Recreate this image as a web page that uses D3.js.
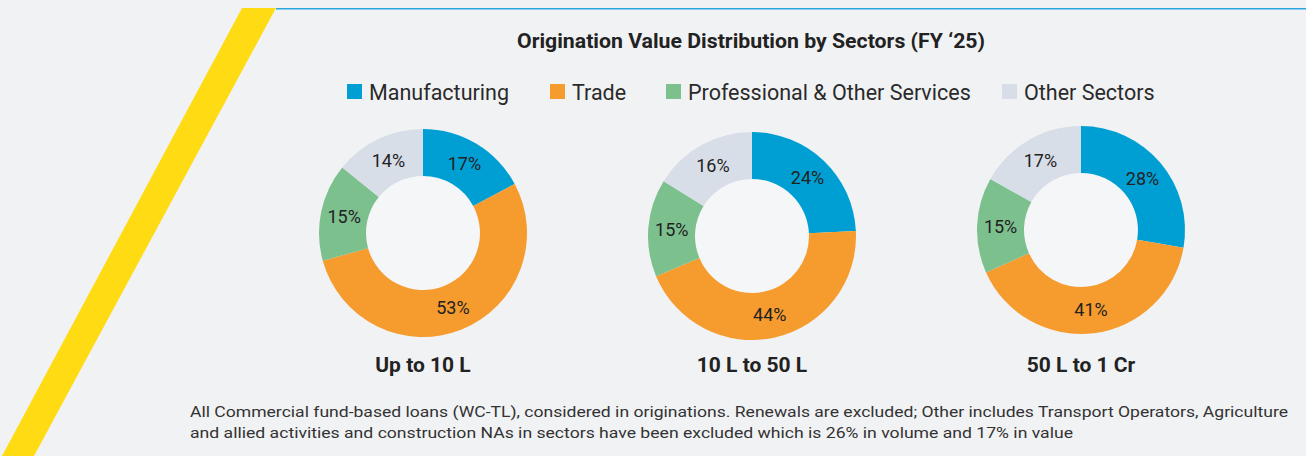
<!DOCTYPE html>
<html>
<head>
<meta charset="utf-8">
<script src="https://cdn.jsdelivr.net/npm/d3@7"></script>
<style>
  html, body { margin: 0; padding: 0; background: #f1f2f4; }
  svg { display: block; font-family: Roboto, "Noto Sans", sans-serif; }
</style>
</head>
<body>
<svg width="1306" height="456"></svg>
<script>
// data
var sectors = ["Manufacturing", "Trade", "Professional & Other Services", "Other Sectors"];
var sectorColors = ["#009fd3", "#f69b2d", "#7cc08e", "#d8dee7"];
var buckets = ["Up to 10 L", "10 L to 50 L", "50 L to 1 Cr"];
var upTo10L = [17, 53, 15, 14];
var from10To50L = [24, 44, 15, 16];
var from50LTo1Cr = [28, 41, 15, 17];
var title = "Origination Value Distribution by Sectors (FY \u201825)";
var footnote = [
  "All Commercial fund-based loans (WC-TL), considered in originations. Renewals are excluded; Other includes Transport Operators, Agriculture",
  "and allied activities and construction NAs in sectors have been excluded which is 26% in volume and 17% in value"
];

var series = [upTo10L, from10To50L, from50LTo1Cr];

var svg = d3.select("svg"),
    width = +svg.attr("width"),
    height = +svg.attr("height");

// background decoration: yellow slash + blue rule
svg.append("polygon")
    .attr("points", "242,8 276,8 34,456 2,456")
    .attr("fill", "#ffdb14");
svg.append("line")
    .attr("x1", 276).attr("x2", width)
    .attr("y1", 8.75).attr("y2", 8.75)
    .attr("stroke", "#2aa7de")
    .attr("stroke-width", 1.6);

svg.append("text")
    .attr("x", 751).attr("y", 48)
    .attr("text-anchor", "middle")
    .attr("font-size", 21)
    .attr("font-weight", "bold")
    .attr("fill", "#222")
    .attr("textLength", 468)
    .attr("lengthAdjust", "spacingAndGlyphs")
    .text(title);

var color = d3.scaleOrdinal().domain(sectors).range(sectorColors);

// legend
var legendX = [347, 550, 666, 1002];
var legend = svg.append("g").attr("class", "legend")
  .selectAll("g")
  .data(sectors)
  .enter().append("g")
    .attr("transform", function(d, i) { return "translate(" + legendX[i] + ",84)"; });

legend.append("rect")
    .attr("width", 15).attr("height", 15)
    .attr("fill", function(d) { return color(d); });

legend.append("text")
    .attr("x", 22).attr("y", 15.5)
    .attr("font-size", 21.5)
    .attr("fill", "#2a2a2a")
    .text(function(d) { return d; });

// donuts
var centers = [[423, 233], [752, 236], [1081, 230]];
var innerR = 57, outerR = 104;

var pie = d3.pie().sort(null).value(function(d) { return d.value; });
var arc = d3.arc().innerRadius(innerR).outerRadius(outerR);

series.forEach(function(values, k) {
  var rows = values.map(function(v, i) { return { sector: sectors[i], value: v }; });
  var g = svg.append("g")
      .attr("transform", "translate(" + centers[k][0] + "," + centers[k][1] + ")");

  g.append("circle")
      .attr("r", innerR)
      .attr("fill", "#f5f6f8");

  var slices = g.selectAll("path")
    .data(pie(rows))
    .enter();

  slices.append("path")
      .attr("d", arc)
      .attr("fill", function(d) { return color(d.data.sector); });

  slices.append("text")
      .attr("transform", function(d) { return "translate(" + arc.centroid(d) + ")"; })
      .attr("text-anchor", "middle")
      .attr("dy", "0.36em")
      .attr("font-size", 18)
      .attr("fill", "#222")
      .text(function(d) { return d.value + "%"; });

  svg.append("text")
      .attr("x", centers[k][0]).attr("y", 372)
      .attr("text-anchor", "middle")
      .attr("font-size", 21)
      .attr("font-weight", "bold")
      .attr("fill", "#222")
      .text(buckets[k]);
});

// footnote
var footLen = [1098, 883];
svg.append("g").selectAll("text")
  .data(footnote)
  .enter().append("text")
    .attr("x", 190)
    .attr("y", function(d, i) { return 417 + i * 21; })
    .attr("font-size", 15.5)
    .attr("fill", "#333")
    .attr("textLength", function(d, i) { return footLen[i]; })
    .attr("lengthAdjust", "spacingAndGlyphs")
    .text(function(d) { return d; });
</script>
</body>
</html>
